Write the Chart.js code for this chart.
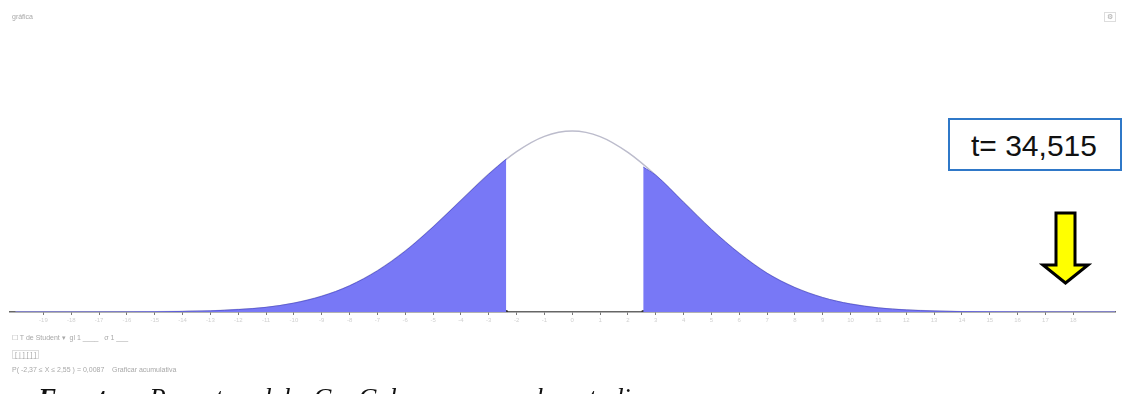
<!DOCTYPE html>
<html>
<head>
<meta charset="utf-8">
<script src="https://cdn.jsdelivr.net/npm/chart.js@4.4.1/dist/chart.umd.min.js"></script>
<style>
  html, body { margin: 0; padding: 0; background: #fff; }
  body { width: 1126px; height: 394px; overflow: hidden; position: relative; font-family: "Liberation Sans", Arial, sans-serif; }
  #wrap { position: absolute; left: 0; top: 0; width: 1126px; height: 394px; }
  .faint { position: absolute; color: #a8a8a8; font-size: 7px; white-space: nowrap; }
  #tbox { position: absolute; left: 948px; top: 118px; width: 174px; height: 53px; border: 2px solid #2f78c8; box-sizing: border-box; background: #fff; }
  #tbox span { position: absolute; left: 21px; top: 9px; font-size: 30px; color: #111; }
  #caption { position: absolute; left: 38px; top: 383px; font-family: "Liberation Serif", "Times New Roman", serif; font-style: italic; font-size: 27px; word-spacing: 16px; color: #111; white-space: nowrap; }
</style>
</head>
<body>
<div id="wrap"><canvas id="chart" width="1126" height="394"></canvas></div>

<div class="faint" style="left:12px;top:13px;">gráfica</div>
<div class="faint" style="left:1104px;top:12px;border:1px solid #ddd;padding:0 2px;">⚙</div>

<div class="faint" style="left:12px;top:334px;">☐ T de Student ▾&nbsp;&nbsp;gl&nbsp;1&nbsp;____&nbsp;&nbsp;&nbsp;σ&nbsp;1&nbsp;___</div>
<div class="faint" style="left:12px;top:350px;border:1px solid #ddd;padding:0 2px;">[ | ] [ ] ]</div>
<div class="faint" style="left:12px;top:366px;">P( -2,37 ≤ X ≤ 2,55 ) = 0,0087&nbsp;&nbsp;&nbsp;&nbsp;Graficar acumulativa</div>

<div id="tbox"><span>t= 34,515</span></div>

<svg style="position:absolute;left:1036px;top:208px;" width="60" height="80">
  <polygon points="20,5 39,5 39,57 52,57 29.5,75 7,57 20,57" fill="#ffff00" stroke="#000" stroke-width="3" stroke-linejoin="miter"/>
</svg>

<div id="caption"><b>Fuente:</b> Reporte del GeoGebra para el estudio</div>

<script>
// valores (eje x en unidades de marca, y = densidad)
const leftX  = [-20, -18, -16, -15, -14, -13, -12, -11, -10, -9, -8, -7, -6, -5, -4, -3, -2, -1, 0];
const leftY  = [0, 0, 0.00002, 0.0001, 0.0003, 0.0006, 0.0013, 0.0025, 0.0048, 0.0085, 0.0142, 0.0223, 0.0330, 0.0461, 0.0605, 0.0748, 0.0870, 0.0953, 0.0982];
const rightX = [1, 2, 3, 4, 5, 6, 7, 8, 9, 10, 11, 12, 13, 14, 15, 16, 18, 19.5];
const rightY = [0.0952, 0.0866, 0.0742, 0.0595, 0.0448, 0.0318, 0.0210, 0.0132, 0.0078, 0.0043, 0.0022, 0.0011, 0.0005, 0.0002, 0.0001, 0.00002, 0, 0];

const leftCut = -2.37, leftCutY = 0.0830;
const rightCut = 2.55, rightCutY = 0.0787;

const xMin = -20.2, xMax = 19.5;

const curve = leftX.map((x, i) => ({ x: x, y: leftY[i] }))
  .concat(rightX.map((x, i) => ({ x: x, y: rightY[i] })));

const leftTail = curve.filter(p => p.x < leftCut).concat([{ x: leftCut, y: leftCutY }]);
const rightTail = [{ x: rightCut, y: rightCutY }].concat(curve.filter(p => p.x > rightCut));

const fillColor = '#7878f6';

new Chart(document.getElementById('chart'), {
  type: 'line',
  data: {
    datasets: [
      {
        data: leftTail, borderColor: '#5c5cd8', borderWidth: 1, backgroundColor: fillColor,
        fill: 'origin', pointRadius: 0, cubicInterpolationMode: 'monotone'
      },
      {
        data: rightTail, borderColor: '#5c5cd8', borderWidth: 1, backgroundColor: fillColor,
        fill: 'origin', pointRadius: 0, cubicInterpolationMode: 'monotone'
      },
      {
        data: curve, borderColor: '#bcbccc', borderWidth: 1.5, fill: false,
        pointRadius: 0, cubicInterpolationMode: 'monotone'
      },
      {
        data: [{ x: leftCut, y: 0 }, { x: rightCut, y: 0 }], showLine: false,
        pointRadius: 2, pointBackgroundColor: '#333', pointBorderWidth: 0
      }
    ]
  },
  options: {
    responsive: false,
    animation: false,
    layout: { padding: { left: 10, right: 11, top: 8, bottom: 0 } },
    plugins: { legend: { display: false }, tooltip: { enabled: false } },
    scales: {
      x: {
        type: 'linear', min: xMin, max: xMax,
        afterBuildTicks: scale => { scale.ticks = scale.ticks.filter(t => Number.isInteger(t.value)); },
        afterFit: scale => { scale.height = 82; },
        border: { color: '#666', width: 1.5 },
        grid: { drawOnChartArea: false, color: '#777', tickLength: 3 },
        ticks: { stepSize: 1, autoSkip: false, maxRotation: 0, color: '#d0d0d0', font: { size: 6 }, padding: 2 }
      },
      y: { display: false, min: 0, max: 0.165 }
    }
  }
});
</script>
</body>
</html>
